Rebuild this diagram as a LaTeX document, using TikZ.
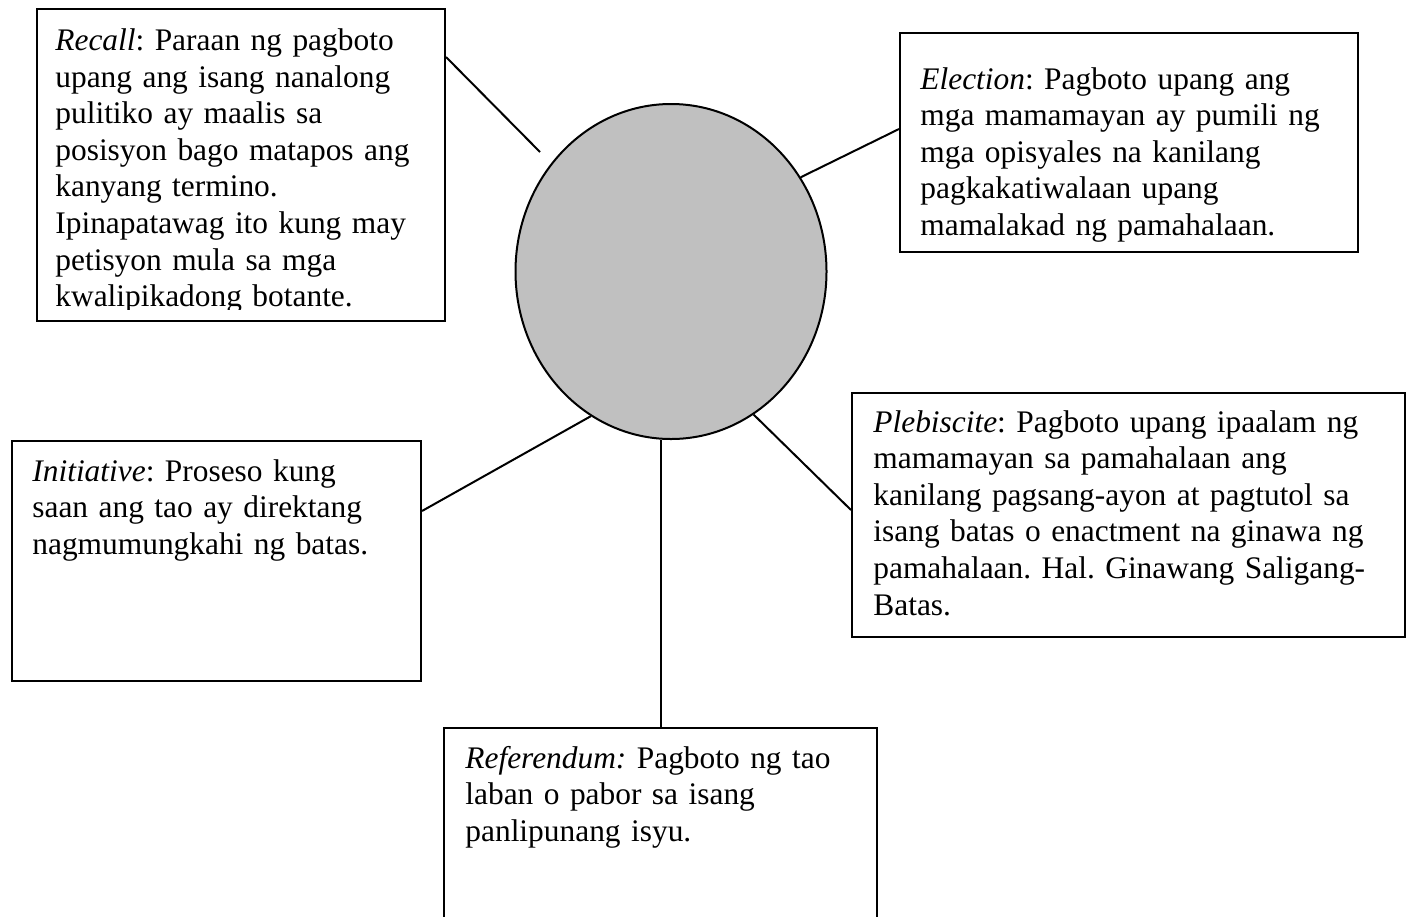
\documentclass[tikz,border=0pt]{standalone}
\usepackage{fontspec}
\setmainfont{Liberation Serif}
\usetikzlibrary{shapes.geometric}
\definecolor{hubgray}{RGB}{192,192,192}
\frenchspacing

\begin{document}
\begin{tikzpicture}[x=0.5pt, y=-0.5pt,
    defbox/.style={draw, line width=1pt, anchor=north west, inner sep=0pt},
    deftext/.style={anchor=base west, inner sep=0pt, text width=280pt, align=left, font=\fontsize{15.7}{18.3}\selectfont},
    spoke/.style={line width=1pt}]
    \useasboundingbox (0,0) rectangle (1411,916);
    \node at (671,271.5) [ellipse, draw, line width=1pt, fill=hubgray, minimum width=155.5pt, minimum height=167.5pt, inner sep=0pt] (hub) {};
    \node at (36,8) [defbox, minimum width=204pt, minimum height=156pt] (recall) {};
    \node at (899,32) [defbox, minimum width=229pt, minimum height=109.5pt] (election) {};
    \node at (11,440) [defbox, minimum width=204.5pt, minimum height=120pt] (initiative) {};
    \node at (851,392) [defbox, minimum width=276.5pt, minimum height=122pt] (plebiscite) {};
    \node at (443,727) [defbox, minimum width=216.5pt, minimum height=120pt] (referendum) {};
    \begin{scope}
        \clip (36,8) rectangle (444,309);
        \node at (55,50.5) [deftext] (recalltext) {\textit{Recall}: Paraan ng pagboto\\ upang ang isang nanalong\\ pulitiko ay maalis sa\\ posisyon bago matapos ang\\ kanyang termino.\\ Ipinapatawag ito kung may\\ petisyon mula sa mga\\ kwalipikadong botante.};
    \end{scope}
    \node at (920,89) [deftext] (electiontext) {\textit{Election}: Pagboto upang ang\\ mga mamamayan ay pumili ng\\ mga opisyales na kanilang\\ pagkakatiwalaan upang\\ mamalakad ng pamahalaan.};
    \node at (32,481) [deftext] (initiativetext) {\textit{Initiative}: Proseso kung\\ saan ang tao ay direktang\\ nagmumungkahi ng batas.};
    \node at (873,432) [deftext] (plebiscitetext) {\textit{Plebiscite}: Pagboto upang ipaalam ng\\ mamamayan sa pamahalaan ang\\ kanilang pagsang-ayon at pagtutol sa\\ isang batas o enactment na ginawa ng\\ pamahalaan. Hal. Ginawang Saligang-\\ Batas.};
    \node at (465,768) [deftext] (referendumtext) {\textit{Referendum:} Pagboto ng tao\\ laban o pabor sa isang\\ panlipunang isyu.};
    \coordinate (recalltip) at (540,152);
    \draw [spoke] ([yshift=-24.5pt]recall.north east) -- (recalltip);
    \draw [spoke] (hub.36) -- ([yshift=-48.5pt]election.north west);
    \draw [spoke] (hub.241) -- ([yshift=-35.5pt]initiative.north east);
    \draw [spoke] (hub.300) -- ([yshift=-59pt]plebiscite.north west);
    \draw [spoke] (hub.south -| referendum.north) -- (referendum.north);
\end{tikzpicture}
\end{document}
